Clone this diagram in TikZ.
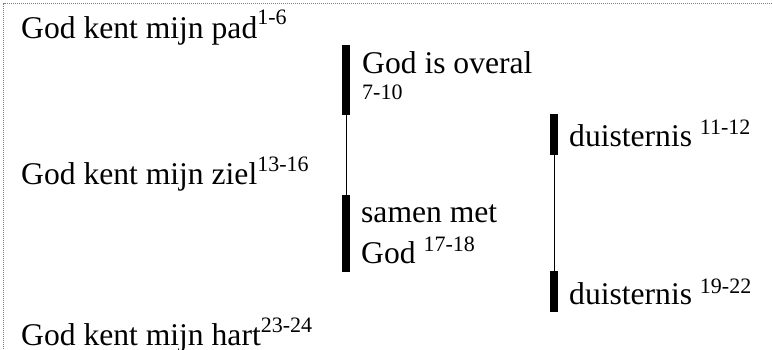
\documentclass[tikz,border=0pt]{standalone}
\usepackage{fontspec}
\setmainfont{Liberation Serif}
\newcommand{\bigtxt}{\fontsize{31.6}{38}\selectfont}
\newcommand{\smalltxt}{\fontsize{22}{26}\selectfont}
\newcommand{\supr}[2][13]{\raisebox{#1pt}{\smalltxt #2}}
\begin{document}
\begin{tikzpicture}[x=1pt,y=-1pt,
  txt/.style={anchor=base west,inner sep=0pt,font=\bigtxt},
  stxt/.style={anchor=base west,inner sep=0pt,font=\smalltxt},
  bar/.style={fill=black,draw=none,minimum width=8pt,inner sep=0pt},
  link/.style={line width=1pt,black},
  frame/.style={draw=black!50,line width=1pt,dash pattern=on 1pt off 1pt}]
\useasboundingbox (0,0) rectangle (772,350);
\draw[frame] (772,4) -- (3.5,4) -- (3.5,350);
% left column
\node[txt] (pad) at (21,39) {God kent mijn pad\supr[14]{1-6}};
\node[txt] (ziel) at (21,185) {God kent mijn ziel\supr{13-16}};
\node[txt] (hart) at (21,345) {God kent mijn hart\supr{23-24}};
% middle column
\node[bar,minimum height=70pt] (b1) at (346,80) {};
\node[bar,minimum height=77pt] (b2) at (346,233.5) {};
\draw[link] (b1.south) -- (b2.north);
\node[txt] (overal) at (362,74) {God is overal};
\node[stxt] (overalv) at (362,100) {7-10};
\node[txt] (samen) at (361,223) {samen met};
\node[txt] (samen2) at (361,263) {God \supr[12]{17-18}};
% right column
\node[bar,minimum height=41pt] (b3) at (554,134.5) {};
\node[bar,minimum height=41pt] (b4) at (554,291.5) {};
\draw[link] (b3.south) -- (b4.north);
\node[txt] (d1) at (569,147) {duisternis \supr[12]{11-12}};
\node[txt] (d2) at (569,305) {duisternis \supr[12]{19-22}};
\end{tikzpicture}
\end{document}
